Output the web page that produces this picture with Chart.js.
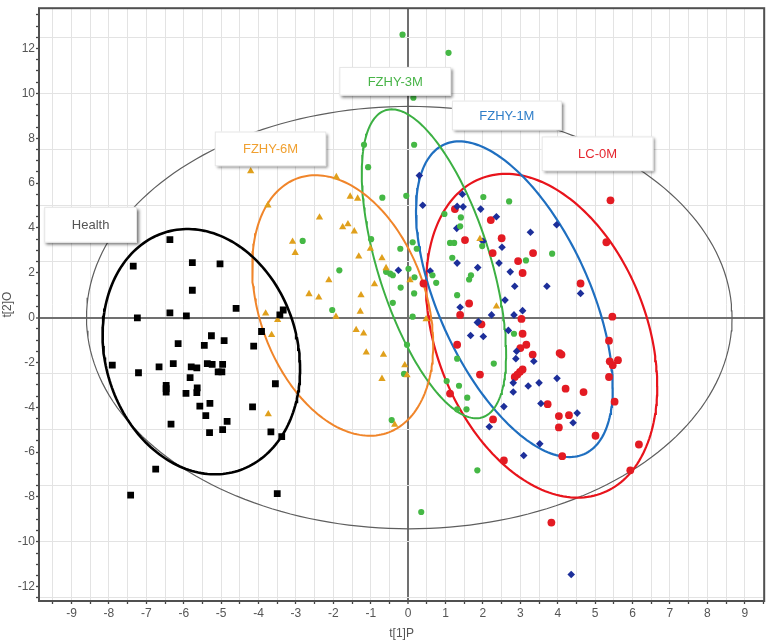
<!DOCTYPE html>
<html>
<head>
<meta charset="utf-8">
<script src="https://cdn.jsdelivr.net/npm/chart.js@4.4.0/dist/chart.umd.min.js"></script>
<style>
  html, body { margin: 0; padding: 0; background: #fff; }
  #wrap { width: 769px; height: 643px; }
</style>
</head>
<body>
<div id="wrap"><canvas id="scoreChart" width="769" height="643"></canvas></div>
<script>
// tick labels
const xTickLabels = [-9, -8, -7, -6, -5, -4, -3, -2, -1, 0, 1, 2, 3, 4, 5, 6, 7, 8, 9];
const yTickLabels = [-12, -10, -8, -6, -4, -2, 0, 2, 4, 6, 8, 10, 12];

const groupNames = ['Health', 'FZHY-6M', 'FZHY-3M', 'FZHY-1M', 'LC-0M'];

// scores [t[1]P, t[2]O]
const healthScores = [
    [-6.37, 3.48], [-7.35, 2.30], [-5.77, 2.45], [-5.03, 2.40], [-5.77, 1.22], [-4.60, 0.41],
    [-6.37, 0.21], [-5.93, 0.08], [-7.24, -0.01], [-3.34, 0.34], [-3.43, 0.12], [-3.92, -0.62],
    [-5.26, -0.81], [-4.92, -1.03], [-6.15, -1.16], [-5.45, -1.24], [-4.13, -1.27], [-7.91, -2.12],
    [-7.21, -2.46], [-6.66, -2.20], [-6.28, -2.05], [-5.80, -2.20], [-5.65, -2.24], [-5.37, -2.05],
    [-5.24, -2.09], [-4.96, -2.09], [-5.08, -2.42], [-4.98, -2.42], [-5.83, -2.68], [-6.47, -3.02],
    [-6.47, -3.17], [-6.47, -3.32], [-5.64, -3.13], [-5.94, -3.38], [-5.65, -3.35], [-3.55, -2.95],
    [-5.57, -3.95], [-5.30, -3.83], [-4.16, -3.98], [-5.41, -4.37], [-6.34, -4.75], [-4.84, -4.63],
    [-5.31, -5.13], [-4.96, -5.00], [-3.67, -5.10], [-3.38, -5.31], [-6.75, -6.76], [-7.42, -7.92],
    [-3.50, -7.85]
];
const fzhy6mScores = [
    [-4.21, 6.53], [-3.75, 5.01], [-1.92, 6.27], [-2.37, 4.47], [-1.55, 5.40], [-1.35, 5.31],
    [-1.75, 4.03], [-1.61, 4.17], [-1.44, 3.85], [-3.09, 3.39], [-3.02, 2.89], [-1.32, 2.73],
    [-0.70, 2.65], [-1.01, 3.07], [-0.59, 2.21], [-2.12, 1.67], [-0.90, 1.49], [0.05, 1.67],
    [-2.65, 1.05], [-2.39, 0.90], [-1.26, 1.00], [-1.28, 0.27], [-3.81, 0.19], [-1.93, 0.04],
    [-3.49, -0.10], [0.48, -0.07], [-3.65, -0.77], [-1.39, -0.55], [-1.19, -0.71], [-1.12, -1.55],
    [-0.66, -1.65], [-0.09, -2.12], [-0.03, -2.57], [-0.70, -2.73], [-3.74, -4.31], [-0.36, -4.78],
    [1.92, 3.51], [2.36, 0.50]
];
const fzhy3mScores = [
    [-0.15, 12.62], [1.08, 11.81], [0.14, 9.81], [-1.18, 7.71], [0.16, 7.71], [-1.07, 6.71],
    [-0.69, 5.35], [-0.05, 5.43], [2.01, 5.38], [2.70, 5.18], [0.97, 4.62], [1.41, 4.47],
    [1.39, 4.07], [-2.82, 3.42], [0.12, 3.36], [-0.99, 3.50], [0.23, 3.07], [-0.21, 3.07],
    [1.12, 3.33], [1.23, 3.33], [1.98, 3.19], [1.18, 2.67], [-1.84, 2.11], [-0.59, 2.04],
    [-0.48, 1.96], [-0.41, 1.89], [0.01, 2.18], [0.17, 1.80], [-0.20, 1.34], [-0.41, 0.66],
    [0.65, 1.89], [0.75, 1.55], [1.68, 1.89], [1.63, 1.70], [1.31, 1.00], [0.16, 1.08],
    [-2.03, 0.34], [0.12, 0.04], [3.15, 2.55], [3.85, 2.85], [2.83, -0.72], [-0.03, -1.21],
    [1.31, -1.83], [2.29, -2.05], [1.03, -2.83], [1.36, -3.04], [1.58, -3.57], [1.31, -4.09],
    [1.56, -4.09], [-0.44, -4.57], [-0.11, -2.51], [1.85, -6.81], [0.35, -8.67]
];
const fzhy1mScores = [
    [0.30, 6.34], [0.39, 5.01], [1.45, 5.50], [1.31, 4.96], [1.47, 4.94], [1.94, 4.84],
    [2.36, 4.50], [1.30, 3.98], [2.51, 3.14], [2.00, 3.40], [1.31, 2.43], [1.86, 2.23],
    [2.43, 2.43], [-0.26, 2.11], [0.59, 2.08], [2.59, 0.78], [1.39, 0.46], [1.88, -0.18],
    [2.23, 0.12], [2.85, 1.40], [2.73, 2.04], [3.27, 3.81], [3.97, 4.14], [3.71, 1.40],
    [4.61, 1.08], [3.06, 0.31], [2.83, 0.12], [2.68, -0.57], [2.90, -1.50], [2.88, -1.83],
    [3.36, -1.95], [2.81, -2.91], [2.81, -3.32], [3.21, -3.05], [3.50, -2.91], [3.98, -2.71],
    [2.56, -3.97], [3.55, -3.83], [4.52, -4.26], [4.41, -4.69], [3.52, -5.63], [3.09, -6.15],
    [1.85, -0.22], [1.67, -0.80], [2.01, -0.84], [2.17, -4.87], [4.36, -11.46]
];
const lc0mScores = [
    [1.25, 4.84], [2.21, 4.35], [2.50, 3.54], [1.52, 3.46], [2.26, 2.88], [0.41, 1.52],
    [1.63, 0.63], [5.41, 5.23], [5.30, 3.36], [3.34, 2.88], [2.94, 2.52], [3.06, 1.99],
    [4.61, 1.52], [1.39, 0.12], [1.96, -0.30], [1.31, -1.21], [1.92, -2.54], [1.12, -3.39],
    [2.27, -4.54], [2.56, -6.37], [3.03, -0.06], [5.46, 0.04], [3.06, -0.72], [3.16, -1.21],
    [3.00, -1.36], [3.33, -1.65], [4.05, -1.58], [4.10, -1.65], [5.37, -1.03], [5.39, -1.95],
    [5.61, -1.90], [5.47, -2.12], [3.06, -2.31], [2.99, -2.42], [2.92, -2.54], [2.85, -2.65],
    [5.37, -2.65], [4.21, -3.17], [4.69, -3.32], [5.52, -3.75], [3.73, -3.86], [4.03, -4.39],
    [4.30, -4.35], [4.03, -4.90], [5.01, -5.27], [4.12, -6.18], [3.83, -9.14], [5.94, -6.81],
    [6.17, -5.66]
];

// confidence ellipses: [centre x, centre y, half width, half height, top-point shift (sin)]
const groupEllipses = [
    [-5.53, -1.52, 2.64, 5.47, -0.14],
    [-1.75, 0.54, 2.42, 5.81, -0.30],
    [0.69, 2.40, 1.93, 6.89, -0.585],
    [2.84, 0.82, 2.63, 7.04, -0.56],
    [3.57, -0.81, 3.09, 7.22, -0.31]
];
const hotellingEllipse = [0.03, 0, 8.63, 9.42, 0];

// label boxes [left, top, right, bottom] in score units
const labelBoxes = [
    [-9.73, 4.94, -7.25, 3.34],
    [-5.17, 8.30, -2.19, 6.75],
    [-1.84, 11.18, 1.15, 9.90],
    [1.17, 9.68, 4.11, 8.35],
    [3.57, 8.08, 6.56, 6.53]
];

const pointColors = ['#000000', '#e0a01c', '#45b845', '#1d2f9a', '#e31b23'];
const pointShapes = ['rect', 'triangle', 'circle', 'rectRot', 'circle'];
const pointSizes = [4.8, 4.2, 3.1, 3.8, 3.9];
const ellipseColors = ['#000000', '#f0852a', '#3cb043', '#1f6fc0', '#e8141c'];
const ellipseWidths = [2.6, 2, 2, 2.2, 2.2];
const labelColors = ['#555555', '#f0a030', '#48b448', '#2f7ec8', '#e5262f'];

const allScores = [healthScores, fzhy6mScores, fzhy3mScores, fzhy1mScores, lc0mScores];

function ellipsePoints(e) {
    const [cx, cy, w, h, s] = e;
    const phi = Math.asin(s);
    const pts = [];
    for (let i = 0; i <= 200; i++) {
        const t = i / 200 * Math.PI * 2;
        pts.push({ x: cx + w * Math.cos(t), y: cy + h * Math.sin(t + phi) });
    }
    return pts;
}

const xMinorTicks = [];
for (let v = -9.5; v <= 9.5; v += 0.5) xMinorTicks.push(v);
const yMinorTicks = [];
for (let v = -12.5; v <= 13.5; v += 0.5) yMinorTicks.push(v);

const datasets = [];
allScores.forEach((scores, i) => {
    datasets.push({
        label: groupNames[i],
        data: scores.map(p => ({ x: p[0], y: p[1] })),
        pointStyle: pointShapes[i],
        pointRadius: pointSizes[i],
        backgroundColor: pointColors[i],
        borderColor: pointColors[i],
        borderWidth: 0,
        order: 0
    });
});
groupEllipses.forEach((e, i) => {
    datasets.push({
        label: groupNames[i] + ' ellipse',
        data: ellipsePoints(e),
        showLine: true,
        pointRadius: 0,
        borderColor: ellipseColors[i],
        borderWidth: ellipseWidths[i],
        fill: false,
        order: 1
    });
});
datasets.push({
    label: 'T2',
    data: ellipsePoints(hotellingEllipse),
    showLine: true,
    pointRadius: 0,
    borderColor: '#5e5e5e',
    borderWidth: 1.2,
    fill: false,
    order: 2
});

const frameAndLabels = {
    id: 'frameAndLabels',
    afterDatasetsDraw(chart) {
        const { ctx, chartArea: a, scales: { x, y } } = chart;
        ctx.save();
        ctx.strokeStyle = '#505050';
        ctx.lineWidth = 2;
        ctx.strokeRect(a.left, a.top, a.right - a.left, a.bottom - a.top);

        ctx.font = '13px "Liberation Sans", Arial, sans-serif';
        ctx.textAlign = 'center';
        ctx.textBaseline = 'middle';
        labelBoxes.forEach((b, i) => {
            const l = x.getPixelForValue(b[0]);
            const t = y.getPixelForValue(b[1]);
            const r = x.getPixelForValue(b[2]);
            const btm = y.getPixelForValue(b[3]);
            ctx.save();
            ctx.shadowColor = 'rgba(0,0,0,0.55)';
            ctx.shadowOffsetX = 2;
            ctx.shadowOffsetY = 2;
            ctx.shadowBlur = 3;
            ctx.fillStyle = '#ffffff';
            ctx.fillRect(l, t, r - l, btm - t);
            ctx.restore();
            ctx.strokeStyle = '#e6e6e6';
            ctx.lineWidth = 1;
            ctx.strokeRect(l + 0.5, t + 0.5, r - l - 1, btm - t - 1);
            ctx.fillStyle = labelColors[i];
            ctx.fillText(groupNames[i], (l + r) / 2, (t + btm) / 2 + 1);
        });
        ctx.restore();
    }
};

Chart.defaults.font.family = '"Liberation Sans", Arial, sans-serif';
Chart.defaults.font.size = 12;
Chart.defaults.color = '#555';

const scoreChart = new Chart(document.getElementById('scoreChart').getContext('2d'), {
    type: 'scatter',
    data: { datasets: datasets },
    plugins: [frameAndLabels],
    options: {
        responsive: false,
        animation: false,
        devicePixelRatio: 1,
        layout: { padding: { left: 0, top: 4, right: 3, bottom: 0 } },
        plugins: {
            legend: { display: false },
            tooltip: { enabled: false }
        },
        scales: {
            x: {
                type: 'linear',
                min: -9.87,
                max: 9.52,
                afterBuildTicks: s => { s.ticks = xMinorTicks.map(v => ({ value: v })); },
                afterFit: s => { s.height = 42; },
                border: { display: false },
                grid: {
                    color: c => c.tick && c.tick.value === 0 ? '#707070' : '#e3e3e3',
                    lineWidth: c => c.tick && c.tick.value === 0 ? 2 : 1,
                    tickColor: '#444',
                    tickWidth: 1.3,
                    tickLength: 3
                },
                ticks: {
                    autoSkip: false,
                    maxRotation: 0,
                    padding: 2,
                    color: '#555',
                    font: { size: 12 },
                    callback: v => xTickLabels.includes(v) ? String(v) : ''
                },
                title: {
                    display: true,
                    text: 't[1]P',
                    color: '#555',
                    font: { size: 12 },
                    padding: { top: 0, bottom: 2 }
                }
            },
            y: {
                type: 'linear',
                min: -12.64,
                max: 13.8,
                afterBuildTicks: s => { s.ticks = yMinorTicks.map(v => ({ value: v })); },
                afterFit: s => { s.width = 39; },
                border: { display: false },
                grid: {
                    color: c => {
                        if (!c.tick) return 'rgba(0,0,0,0)';
                        const v = c.tick.value;
                        if (v === 0) return '#707070';
                        return v % 2.5 === 0 ? '#e3e3e3' : 'rgba(0,0,0,0)';
                    },
                    lineWidth: c => c.tick && c.tick.value === 0 ? 2 : 1,
                    tickColor: '#444',
                    tickWidth: 1.3,
                    tickLength: 3
                },
                ticks: {
                    autoSkip: false,
                    padding: 1,
                    color: '#555',
                    font: { size: 12 },
                    callback: v => yTickLabels.includes(v) ? String(v) : ''
                },
                title: {
                    display: true,
                    text: 't[2]O',
                    color: '#555',
                    font: { size: 12 },
                    padding: { top: 0, bottom: 0 }
                }
            }
        }
    }
});
</script>
</body>
</html>
